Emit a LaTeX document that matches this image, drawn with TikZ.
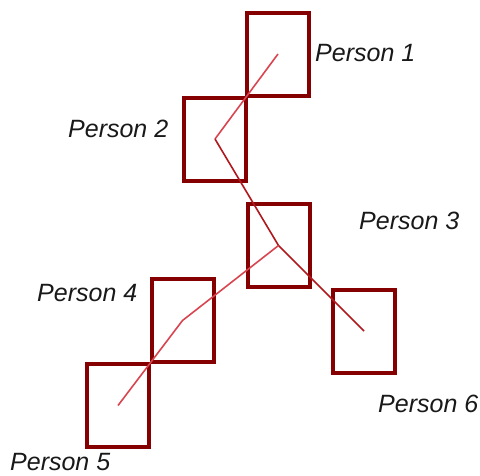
\documentclass[tikz,border=0pt]{standalone}
\usepackage{fontspec}
\setmainfont{Liberation Sans}
\definecolor{boxRED}{HTML}{850000}
\definecolor{lnDRK}{HTML}{B0181E}
\definecolor{lnLGT}{HTML}{D84550}
\begin{document}
\begin{tikzpicture}[x=1pt, y=-1pt,
  pbox/.style={draw=boxRED, line width=4pt, minimum width=62pt, minimum height=83pt,
               inner sep=0pt},
  lbl/.style={font=\fontsize{25}{30}\selectfont\itshape, anchor=west, inner sep=0pt,
              text=black!90},
  lnk/.style={line width=1.6pt, line join=round}]
\useasboundingbox (0,0) rectangle (480,475);
% boxes
\foreach \n/\x/\y in {1/278/54, 2/215/139, 3/278.5/245.5, 4/182.5/320.5, 5/118/405.5, 6/364/331}
  {\node[pbox] (p\n) at (\x,\y) {};}
% path
\draw[lnk, draw=lnLGT] (p1.center) -- (p2.center);
\draw[lnk, draw=lnDRK] (p2.center) -- (p3.center) -- (p6.center);
\draw[lnk, draw=lnLGT] (p3.center) -- (p4.center) -- (p5.center);
% labels
\node[lbl] (t1) at (315,53) {Person 1};
\node[lbl] (t2) at (68,129) {Person 2};
\node[lbl] (t3) at (359,221) {Person 3};
\node[lbl] (t4) at (37,293) {Person 4};
\node[lbl] (t5) at (10,462) {Person 5};
\node[lbl] (t6) at (378,404) {Person 6};
\end{tikzpicture}
\end{document}
